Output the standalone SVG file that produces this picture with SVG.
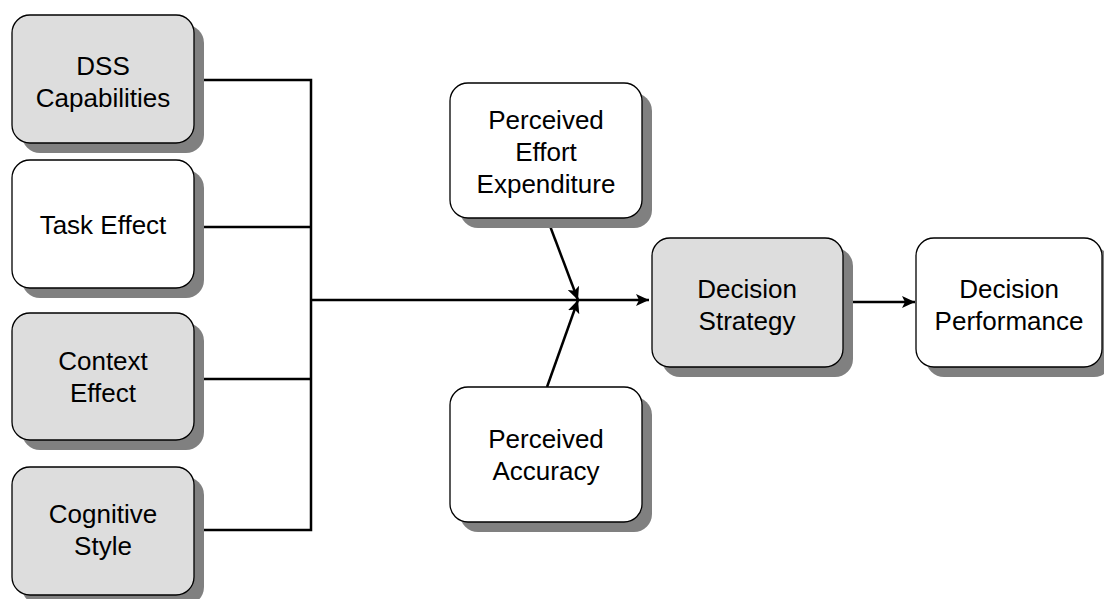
<svg xmlns="http://www.w3.org/2000/svg" width="1104" height="599" viewBox="0 0 1104 599">
<style>
.shadow{fill:#808080;stroke:none}
.box{stroke:#000;stroke-width:1.3}
.gray{fill:#dddddd}
.white{fill:#ffffff}
.lbl{font-family:"Liberation Sans",Arial,sans-serif;font-size:26px;fill:#000;text-anchor:middle}
.conn{fill:none;stroke:#000;stroke-width:2.5}
</style>
<defs>
<marker id="arr" markerUnits="userSpaceOnUse" markerWidth="14" markerHeight="12" viewBox="0 0 14 12" refX="13" refY="6" orient="auto">
<path d="M0,0 L13,6 L0,12 L3,6 Z" fill="#000"/>
</marker>
</defs>
<rect width="1104" height="599" fill="#fff"/>
<g id="connectors">
<polyline class="conn" points="194,80 311,80 311,530 194,530"/>
<line class="conn" x1="194" y1="227" x2="311" y2="227"/>
<line class="conn" x1="194" y1="379" x2="311" y2="379"/>
<line class="conn" x1="311" y1="300" x2="649" y2="300" marker-end="url(#arr)"/>
<line class="conn" x1="547" y1="218" x2="578" y2="300" marker-end="url(#arr)"/>
<line class="conn" x1="547" y1="387" x2="578" y2="300" marker-end="url(#arr)"/>
<line class="conn" x1="843" y1="302" x2="915" y2="302" marker-end="url(#arr)"/>
</g>
<g id="dss">
<rect class="shadow" x="22" y="25" width="182" height="128" rx="18"/>
<rect class="box gray" x="12" y="15" width="182" height="128" rx="18"/>
<text class="lbl" x="103" y="75">DSS</text>
<text class="lbl" x="103" y="107">Capabilities</text>
</g>
<g id="task">
<rect class="shadow" x="22" y="170" width="182" height="128" rx="18"/>
<rect class="box white" x="12" y="160" width="182" height="128" rx="18"/>
<text class="lbl" x="103" y="234">Task Effect</text>
</g>
<g id="context">
<rect class="shadow" x="22" y="323" width="182" height="127" rx="18"/>
<rect class="box gray" x="12" y="313" width="182" height="127" rx="18"/>
<text class="lbl" x="103" y="370">Context</text>
<text class="lbl" x="103" y="402">Effect</text>
</g>
<g id="cognitive">
<rect class="shadow" x="22" y="477" width="182" height="128" rx="18"/>
<rect class="box gray" x="12" y="467" width="182" height="128" rx="18"/>
<text class="lbl" x="103" y="523">Cognitive</text>
<text class="lbl" x="103" y="555">Style</text>
</g>
<g id="effort">
<rect class="shadow" x="460" y="93" width="192" height="135" rx="18"/>
<rect class="box white" x="450" y="83" width="192" height="135" rx="18"/>
<text class="lbl" x="546" y="129">Perceived</text>
<text class="lbl" x="546" y="161">Effort</text>
<text class="lbl" x="546" y="193">Expenditure</text>
</g>
<g id="accuracy">
<rect class="shadow" x="460" y="397" width="192" height="135" rx="18"/>
<rect class="box white" x="450" y="387" width="192" height="135" rx="18"/>
<text class="lbl" x="546" y="448">Perceived</text>
<text class="lbl" x="546" y="480">Accuracy</text>
</g>
<g id="strategy">
<rect class="shadow" x="662" y="248" width="191" height="129" rx="18"/>
<rect class="box gray" x="652" y="238" width="191" height="129" rx="18"/>
<text class="lbl" x="747" y="298">Decision</text>
<text class="lbl" x="747" y="330">Strategy</text>
</g>
<g id="performance">
<rect class="shadow" x="926" y="248" width="186" height="129" rx="18"/>
<rect class="box white" x="916" y="238" width="186" height="129" rx="18"/>
<text class="lbl" x="1009" y="298">Decision</text>
<text class="lbl" x="1009" y="330">Performance</text>
</g>
</svg>
